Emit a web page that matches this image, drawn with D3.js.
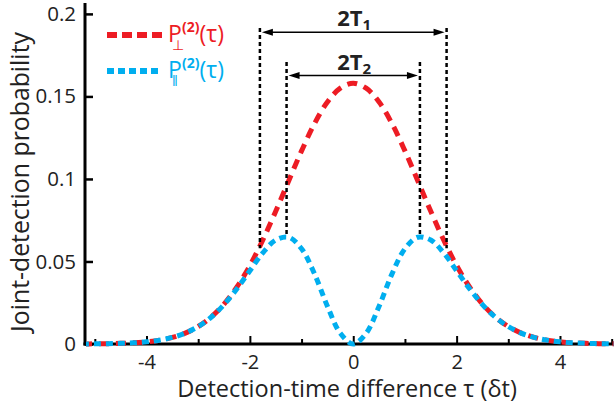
<!DOCTYPE html>
<html><head><meta charset="utf-8">
<script src="https://cdn.jsdelivr.net/npm/d3@7"></script>
<style>body{margin:0;background:#fff} text{font-family:"Open Sans",sans-serif}</style>
</head><body><svg id="c" width="614" height="407"></svg>
<script>
const tau = [-5.25,-5,-4.75,-4.5,-4.25,-4,-3.75,-3.5,-3.25,-3,-2.75,-2.5,-2.25,-2,-1.75,-1.5,-1.25,-1,-0.75,-0.5,-0.25,0,
  0.25,0.5,0.75,1,1.25,1.5,1.75,2,2.25,2.5,2.75,3,3.25,3.5,3.75,4,4.25,4.5,4.75,5,5.25];
const pPerp = [0,0.0001,0.0002,0.0004,0.0007,0.0013,0.0023,0.004,0.0066,0.0106,0.0163,0.0242,0.0346,0.0475,0.063,0.0804,0.0988,0.117,0.1335,0.1466,0.155,0.158,
  0.155,0.1466,0.1335,0.117,0.0988,0.0804,0.063,0.0475,0.0346,0.0242,0.0163,0.0106,0.0066,0.004,0.0023,0.0013,0.0007,0.0004,0.0002,0.0001,0];
const pPar = [0,0.0001,0.0002,0.0004,0.0007,0.0013,0.0023,0.004,0.0066,0.0106,0.0162,0.0239,0.0335,0.0444,0.0552,0.063,0.0647,0.0577,0.0425,0.0229,0.0065,0,
  0.0065,0.0229,0.0425,0.0577,0.0647,0.063,0.0552,0.0444,0.0335,0.0239,0.0162,0.0106,0.0066,0.004,0.0023,0.0013,0.0007,0.0004,0.0002,0.0001,0];
const xTicks = [-5,-4,-3,-2,-1,0,1,2,3,4,5];
const xLabelled = [-4,-2,0,2,4];
const yTicks = [0,0.05,0.1,0.15,0.2];
const yTickLabels = ["0","0.05","0.1","0.15","0.2"];
const widthMarks = [
  {label:"2T", sub:"1", half:1.806, top:0.1915, arrow:0.1889, bottom:0.058},
  {label:"2T", sub:"2", half:1.29, top:0.1709, arrow:0.1626, bottom:0.065}
];
const RED = "#ed1c24", BLUE = "#00aeef";

const svg = d3.select("#c");
const x = d3.scaleLinear().domain([-5.19, 5.045]).range([85, 614]);
const y = d3.scaleLinear().domain([0, 0.2066]).range([344, 3]);

function fit(sel, target){
  const w = sel.node().getComputedTextLength();
  const fs = parseFloat(sel.style("font-size"));
  sel.style("font-size", (fs*target/w) + "px");
}

// axes
const xAxis = d3.axisBottom(x).tickValues(xTicks).tickSizeOuter(0)
  .tickSize(-7).tickPadding(11)
  .tickFormat(d => xLabelled.includes(d) ? String(d) : "");
const gx = svg.append("g").attr("transform", `translate(0,${y(0)})`).call(xAxis);
gx.select(".domain").remove();
gx.selectAll(".tick line").attr("stroke","#000").attr("stroke-width",2)
  .attr("y2", d => xLabelled.includes(d) ? -8 : -5);
gx.selectAll(".tick text").style("font-size","20px").attr("fill","#222").attr("font-family",null);

const yAxis = d3.axisLeft(y).tickValues(yTicks).tickSizeOuter(0)
  .tickSize(-8).tickPadding(9)
  .tickFormat((d,i) => yTickLabels[i]);
const gy = svg.append("g").attr("transform", `translate(${x.range()[0]},0)`).call(yAxis);
gy.select(".domain").remove();
gy.selectAll(".tick line").attr("stroke","#000").attr("stroke-width",2.5);
gy.selectAll(".tick text").style("font-size","20.5px").attr("fill","#222").attr("font-family",null);

svg.append("line").attr("x1",x.range()[0]).attr("x2",x.range()[0])
  .attr("y1",y.range()[0]+1.5).attr("y2",y.range()[1]).attr("stroke","#000").attr("stroke-width",3);
svg.append("line").attr("x1",x.range()[0]-1.5).attr("x2",x.range()[1])
  .attr("y1",y(0)).attr("y2",y(0)).attr("stroke","#000").attr("stroke-width",3);

// titles
const xt = svg.append("text").attr("x",347).attr("y",397).attr("text-anchor","middle")
  .attr("fill","#222").style("font-size","21px").text("Detection-time difference τ (δt)");
fit(xt, 340);
const yt = svg.append("text").attr("transform","translate(29,182) rotate(-90)").attr("text-anchor","middle")
  .attr("fill","#222").style("font-size","21px").text("Joint-detection probability");
fit(yt, 300);

// curves
svg.append("clipPath").attr("id","clip").append("rect")
  .attr("x",x.range()[0]+1).attr("y",0).attr("width",x.range()[1]-x.range()[0]).attr("height",350);
const line = (vals) => d3.line().x((d,i)=>x(tau[i])).y(d=>y(d)).curve(d3.curveCatmullRom)(vals);
const gc = svg.append("g").attr("clip-path","url(#clip)");
gc.append("path").attr("d", line(pPerp)).attr("fill","none").attr("stroke",RED)
  .attr("stroke-width",5).attr("stroke-dasharray","10,7");
gc.append("path").attr("d", line(pPar)).attr("fill","none").attr("stroke",BLUE)
  .attr("stroke-width",5).attr("stroke-dasharray","7,5");

// width markers
widthMarks.forEach(m => {
  const xl = x(-m.half), xr = x(m.half), ya = y(m.arrow);
  [xl, xr].forEach(xx => svg.append("line").attr("x1",xx).attr("x2",xx)
    .attr("y1",y(m.top)).attr("y2",y(m.bottom)).attr("stroke","#000")
    .attr("stroke-width",2.5).attr("stroke-dasharray","4,3"));
  const a0 = xl + 2, a1 = xr - 2;
  svg.append("line").attr("x1",a0+8).attr("x2",a1-8).attr("y1",ya).attr("y2",ya)
    .attr("stroke","#000").attr("stroke-width",1.5);
  svg.append("path").attr("d",`M${a0},${ya}L${a0+11},${ya-3.5}L${a0+11},${ya+3.5}Z`).attr("fill","#000");
  svg.append("path").attr("d",`M${a1},${ya}L${a1-11},${ya-3.5}L${a1-11},${ya+3.5}Z`).attr("fill","#000");
  const t = svg.append("text").attr("x", x(0)+1).attr("y", ya-6).attr("text-anchor","middle")
    .attr("fill","#222").style("font-size","22px").style("font-weight","bold");
  t.append("tspan").text(m.label);
  t.append("tspan").attr("dy",4).style("font-size","15px").text(m.sub);
});

// legend
const legend = [
  {color:RED, dash:"10,5", sub:"⊥", yl:35},
  {color:BLUE, dash:"7,4", sub:"‖", yl:71}
];
legend.forEach(l => {
  svg.append("line").attr("x1",107).attr("x2",162).attr("y1",l.yl).attr("y2",l.yl)
    .attr("stroke",l.color).attr("stroke-width",6).attr("stroke-dasharray",l.dash);
  const t = svg.append("text").attr("x",168).attr("y",l.yl+7).attr("fill",l.color).style("font-size","23px");
  t.append("tspan").text("P");
  t.append("tspan").attr("x",172).attr("dy",8).style("font-size","14px").text(l.sub);
  t.append("tspan").attr("x",182).attr("dy",-18).style("font-size","14px").style("font-weight","bold").text("(2)");
  t.append("tspan").attr("dy",10).text("(τ)");
});
</script></body></html>
